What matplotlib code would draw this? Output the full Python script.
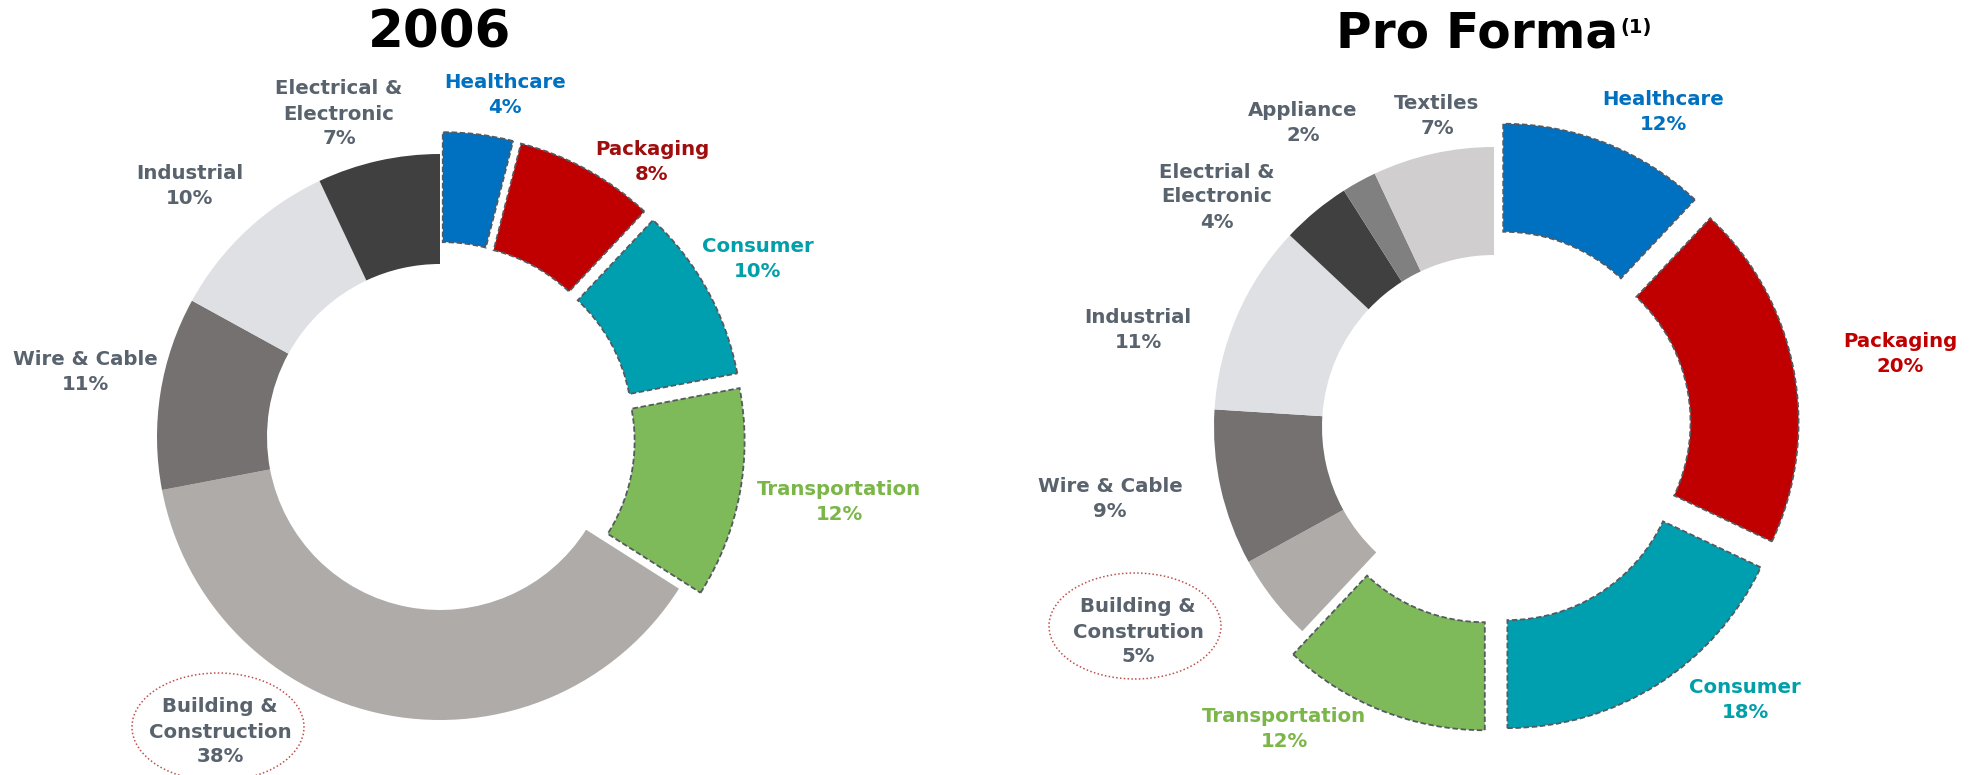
import matplotlib
matplotlib.use("Agg")
import matplotlib.pyplot as plt
from matplotlib.patches import Ellipse

W, H = 1972, 775

# ---- data ----
left_labels = ["Healthcare", "Packaging", "Consumer", "Transportation",
               "Building &\nConstruction", "Wire & Cable", "Industrial",
               "Electrical &\nElectronic"]
left_values = [4, 8, 10, 12, 38, 11, 10, 7]

right_labels = ["Healthcare", "Packaging", "Consumer", "Transportation",
                "Building &\nConstrution", "Wire & Cable", "Industrial",
                "Electrial &\nElectronic", "Appliance", "Textiles"]
right_values = [12, 20, 18, 12, 5, 9, 11, 4, 2, 7]

# ---- style ----
GREY_TXT = "#59636e"
wedge_colors = {
    "Healthcare": "#0070c0", "Packaging": "#c00000", "Consumer": "#009faf",
    "Transportation": "#7fba5a", "Building": "#afaba9", "Wire": "#767171",
    "Industrial": "#dee0e4", "Electri": "#404040", "Appliance": "#808080",
    "Textiles": "#d0cece",
}
highlight = ["Healthcare", "Packaging", "Consumer", "Transportation"]


def key_of(label):
    for k in wedge_colors:
        if label.startswith(k):
            return k


def draw_donut(ax, labels, values, center, radius, width, expl, label_pos,
               txt_colors, circle):
    keys = [key_of(l) for l in labels]
    colors = [wedge_colors[k] for k in keys]
    explode = [expl if k in highlight else 0 for k in keys]
    wedges, _ = ax.pie(values, colors=colors, explode=explode, radius=radius,
                       center=center, startangle=90, counterclock=False,
                       wedgeprops=dict(width=width, linewidth=0))
    for w, k in zip(wedges, keys):
        if k in highlight:
            w.set_edgecolor("#555a60")
            w.set_linewidth(1.3)
            w.set_linestyle((0, (3, 1.5)))
    for lab, val, (px, py), k in zip(labels, values, label_pos, keys):
        ax.text(px, H - py, f"{lab}\n{val}%", ha="center", va="center",
                fontsize=14.2, fontweight="bold", linespacing=1.4,
                color=txt_colors.get(k, GREY_TXT))
    cx, cy, ew, eh = circle
    ax.add_patch(Ellipse((cx, H - cy), ew, eh, fill=False,
                         edgecolor="#c0504d", linewidth=1.1,
                         linestyle=(0, (1, 1.5))))


fig = plt.figure(figsize=(W / 100, H / 100), dpi=100)
ax = fig.add_axes([0, 0, 1, 1])

left_pos = [(505, 95), (652, 162), (758, 259), (839, 502), (220, 732),
            (85, 372), (190, 186), (339, 114)]
left_txt = {"Healthcare": "#0070c0", "Packaging": "#a00d0d",
            "Consumer": "#00a0aa", "Transportation": "#7ab648"}
draw_donut(ax, left_labels, left_values, (440, H - 437), 283, 110, 22,
           left_pos, left_txt, (218, 727, 172, 108))

right_pos = [(1663, 112), (1900, 354), (1745, 700), (1284, 729), (1138, 632),
             (1110, 499), (1138, 330), (1217, 197), (1303, 123), (1437, 116)]
right_txt = {"Healthcare": "#0070c0", "Packaging": "#c00000",
             "Consumer": "#00a0aa", "Transportation": "#7ab648"}
draw_donut(ax, right_labels, right_values, (1494, H - 427), 280, 108, 25,
           right_pos, right_txt, (1135, 626, 172, 106))

ax.set_xlim(0, W)
ax.set_ylim(0, H)
ax.set_aspect("auto")
ax.axis("off")

# titles
ax.text(440, H - 48, "2006", ha="center", va="baseline", fontsize=37,
        fontweight="bold", color="black")
t = ax.text(1477, H - 47, "Pro Forma", ha="center", va="baseline",
            fontsize=35, fontweight="bold", color="black")
fig.canvas.draw()
bb = t.get_window_extent()
ax.text(bb.x1 + 2, H - 28, "(1)", ha="left", va="center", fontsize=14,
        fontweight="bold", color="black")

fig.savefig("out.png", dpi=100)
